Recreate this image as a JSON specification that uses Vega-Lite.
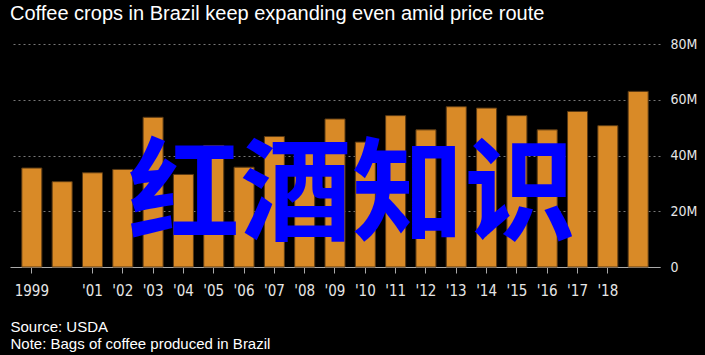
{
  "$schema": "https://vega.github.io/schema/vega-lite/v6.json",
  "width": 650,
  "height": 223,
  "autosize": {"type": "none"},
  "padding": {"left": 10, "top": 44, "right": 45, "bottom": 88},
  "background": "#000000",
  "config": {"view": {"stroke": null}},
  "title": {
    "text": "Coffee crops in Brazil keep expanding even amid price route",
    "anchor": "start",
    "frame": "group",
    "font": "Liberation Sans",
    "fontSize": 20,
    "fontWeight": "normal",
    "color": "#ffffff",
    "offset": 13
  },
  "datasets": {
    "crops": [
      {"year": "1999", "bags": 35500000},
      {"year": "2000", "bags": 30600000},
      {"year": "2001", "bags": 33800000},
      {"year": "2002", "bags": 35000000},
      {"year": "2003", "bags": 53700000},
      {"year": "2004", "bags": 33200000},
      {"year": "2005", "bags": 43600000},
      {"year": "2006", "bags": 35800000},
      {"year": "2007", "bags": 46800000},
      {"year": "2008", "bags": 42000000},
      {"year": "2009", "bags": 53100000},
      {"year": "2010", "bags": 44800000},
      {"year": "2011", "bags": 54300000},
      {"year": "2012", "bags": 49200000},
      {"year": "2013", "bags": 57500000},
      {"year": "2014", "bags": 57000000},
      {"year": "2015", "bags": 54300000},
      {"year": "2016", "bags": 49200000},
      {"year": "2017", "bags": 55800000},
      {"year": "2018", "bags": 50700000},
      {"year": "2019", "bags": 63000000}
    ],
    "mark": [{"label": "红酒知识"}]
  },
  "layer": [
    {
      "data": {"name": "crops"},
      "mark": {"type": "bar", "color": "#d98a27", "stroke": "#5a3a14", "strokeWidth": 1},
      "encoding": {
        "x": {
          "field": "year",
          "type": "nominal",
          "scale": {"paddingInner": 0.34, "paddingOuter": 0.39},
          "axis": {
            "values": ["1999","2001","2002","2003","2004","2005","2006","2007","2008","2009","2010","2011","2012","2013","2014","2015","2016","2017","2018"],
            "labelExpr": "datum.value == '1999' ? '1999' : \"'\" + slice(datum.value, 2)",
            "labelAngle": 0,
            "labelFont": "DejaVu Sans Condensed",
            "labelFontSize": 15,
            "labelColor": "#e6e6e6",
            "labelPadding": 10,
            "domainColor": "#aaaaaa",
            "tickColor": "#aaaaaa",
            "tickSize": 6,
            "grid": false,
            "title": ["Source: USDA", "Note: Bags of coffee produced in Brazil"],
            "titleFont": "Liberation Sans",
            "titleFontSize": 15,
            "titleFontWeight": "normal",
            "titleColor": "#ffffff",
            "titleAnchor": "start",
            "titleAlign": "left",
            "titleBaseline": "top",
            "titleX": 0,
            "titleY": 52,
            "titleLineHeight": 17
          }
        },
        "y": {
          "field": "bags",
          "type": "quantitative",
          "scale": {"domain": [0, 80000000]},
          "axis": {
            "orient": "right",
            "values": [0, 20000000, 40000000, 60000000, 80000000],
            "labelExpr": "datum.value == 0 ? '0' : (datum.value / 1000000) + 'M'",
            "labelFont": "DejaVu Sans Condensed",
            "labelFontSize": 14,
            "labelColor": "#e6e6e6",
            "labelAlign": "left",
            "labelPadding": 10,
            "domain": false,
            "ticks": false,
            "grid": true,
            "gridColor": "#777777",
            "gridDash": [2, 3],
            "gridWidth": 1,
            "title": null
          }
        }
      }
    },
    {
      "data": {"name": "mark"},
      "mark": {
        "type": "text",
        "font": "Noto Sans CJK SC",
        "fontWeight": "bold",
        "fontSize": 112,
        "color": "#0000ff",
        "align": "center",
        "baseline": "middle",
        "dx": 17
      },
      "encoding": {
        "x": {"datum": "2009"},
        "y": {"datum": 24900000},
        "text": {"field": "label"}
      }
    }
  ]
}
